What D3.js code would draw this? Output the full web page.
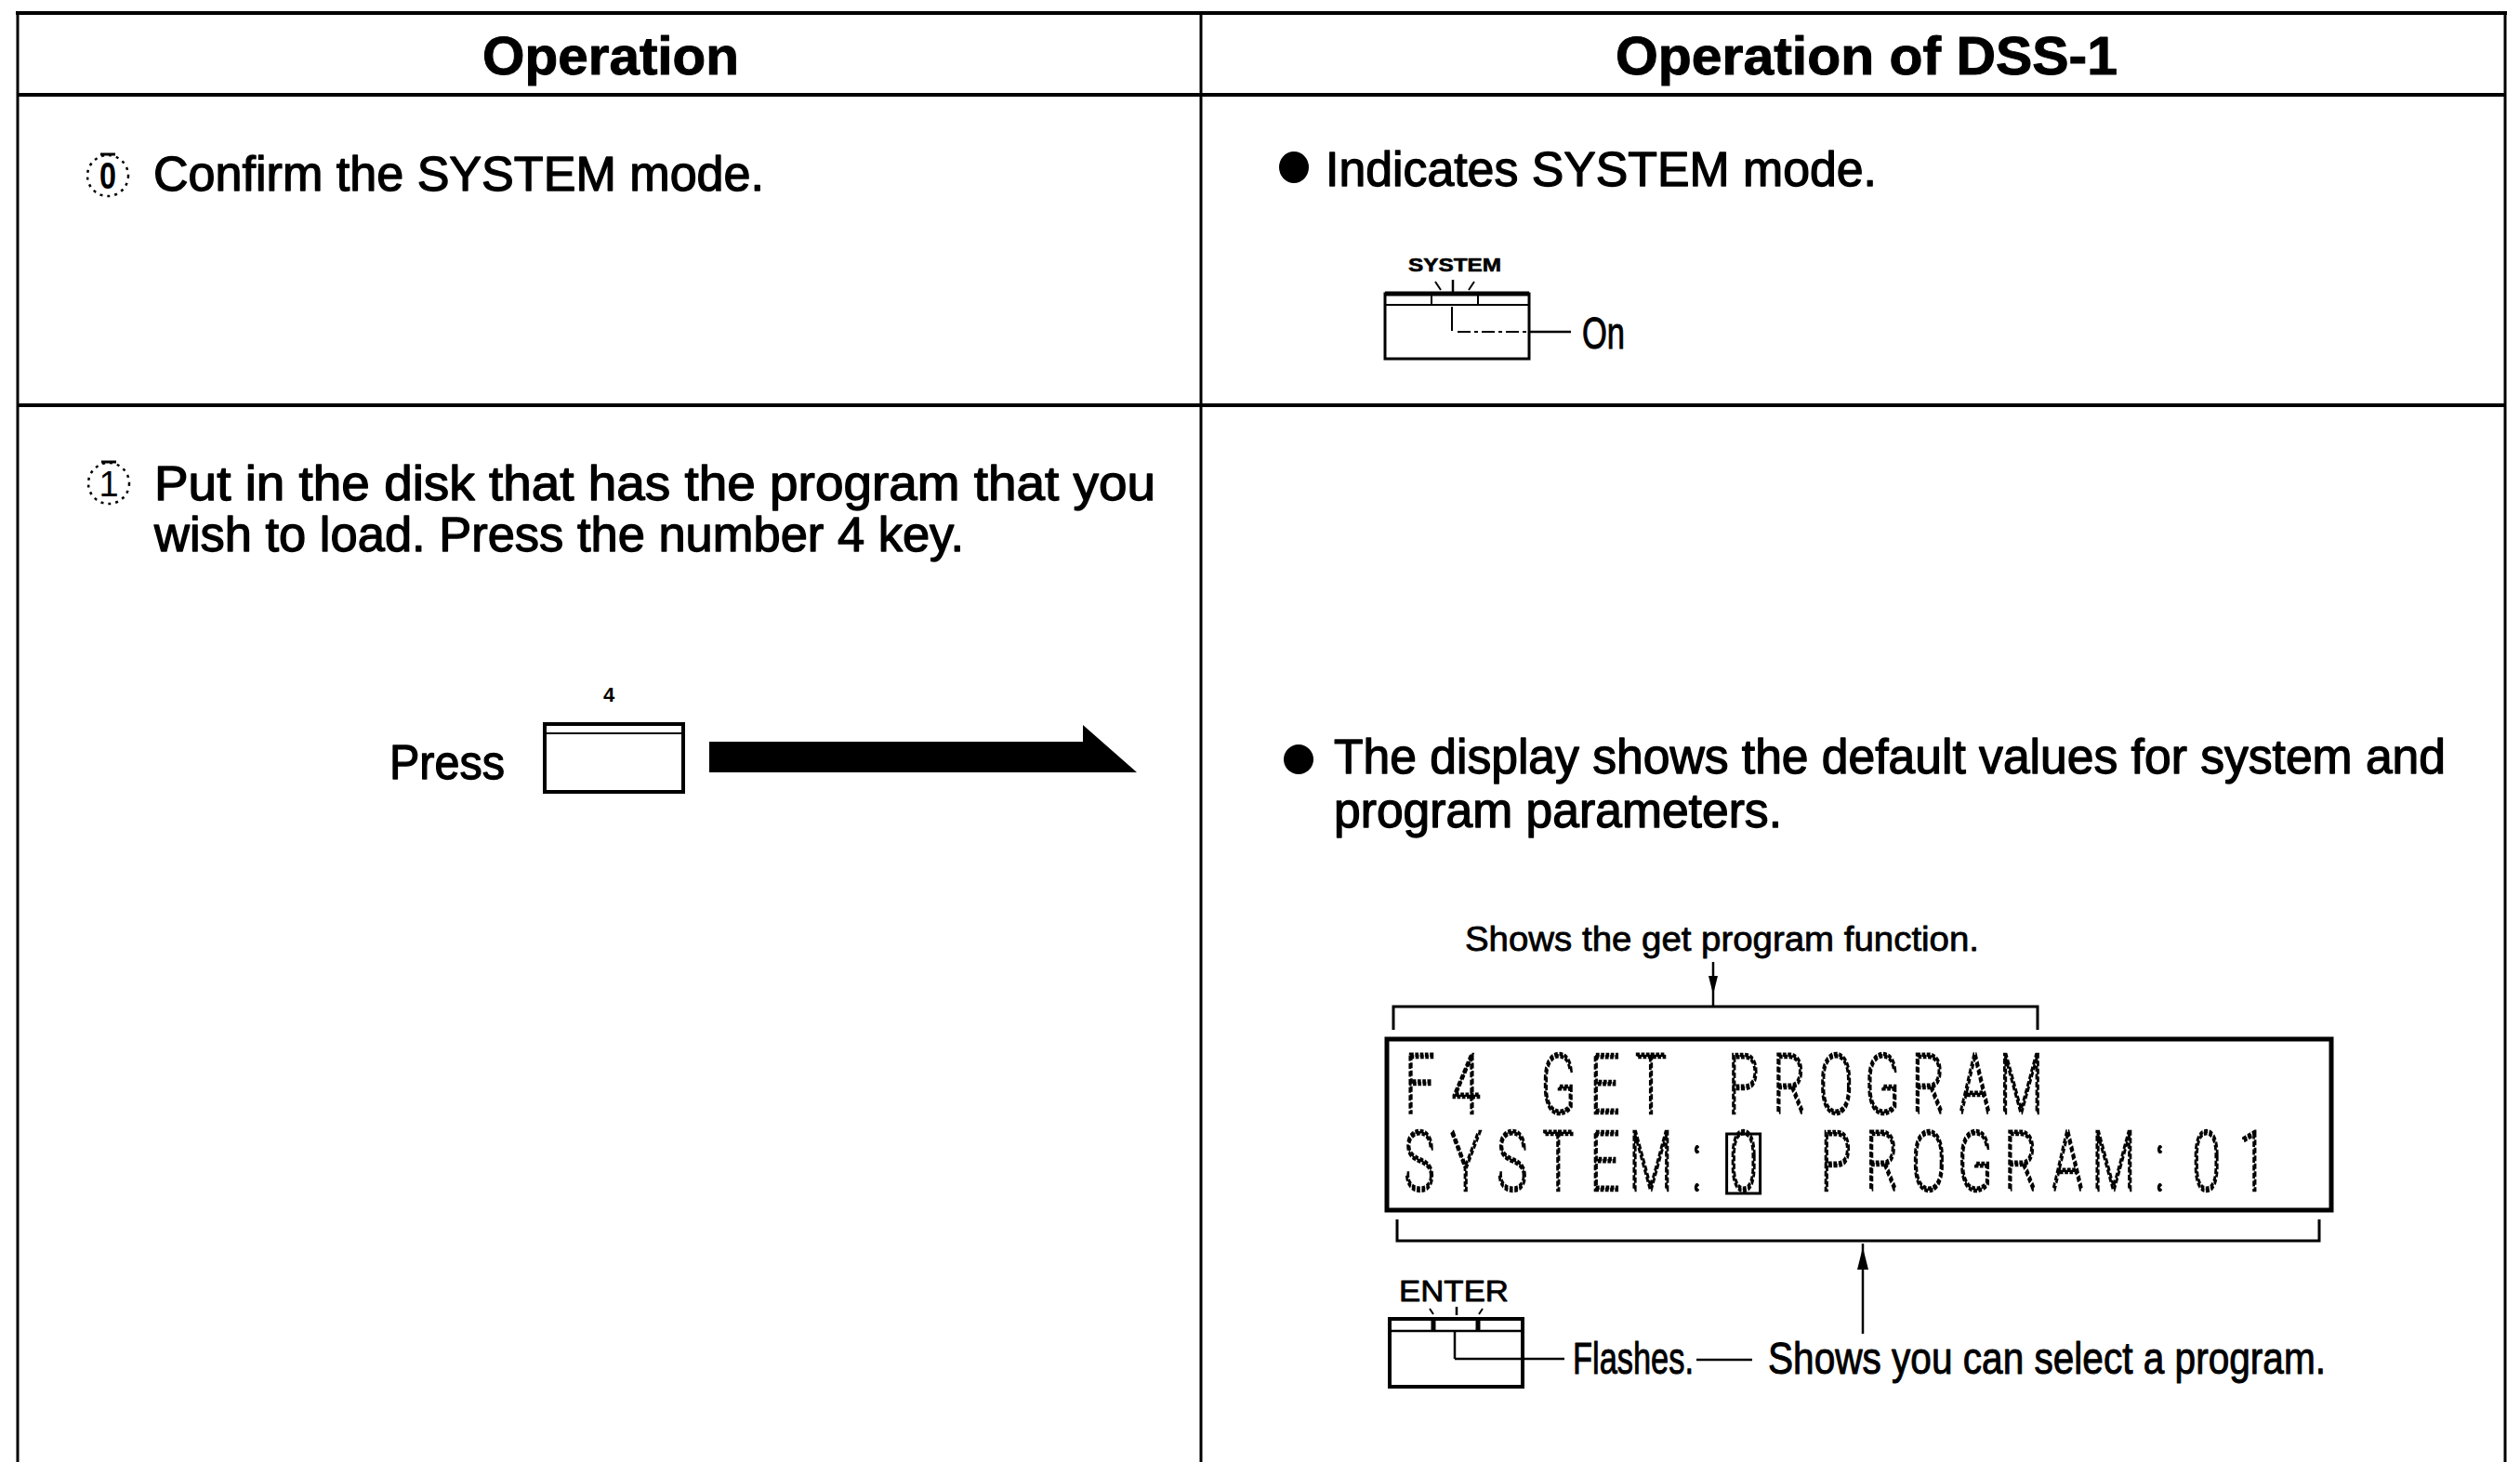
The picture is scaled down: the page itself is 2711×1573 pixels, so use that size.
<!DOCTYPE html>
<html><head><meta charset="utf-8">
<script src="https://cdn.jsdelivr.net/npm/d3@7"></script>
<style>html,body{margin:0;padding:0;background:#fff;overflow:hidden}svg{display:block}</style>
</head><body>
<script>
// ---- content ----
const headers = ["Operation", "Operation of DSS-1"];
const stepMarks = ["0", "1"];
const step0Text = ["Confirm the SYSTEM mode."];
const step0Result = ["Indicates SYSTEM mode."];
const step1Text = ["Put in the disk that has the program that you", "wish to load. Press the number 4 key."];
const step1Result = ["The display shows the default values for system and", "program parameters."];
const keyLabels = ["SYSTEM", "4", "ENTER"];
const pressLabel = ["Press"];
const onLabel = ["On"];
const lcdLines = ["F4 GET PROGRAM", "SYSTEM:0  PROGRAM:01"];
const notes = ["Shows the get program function.", "Flashes.", "Shows you can select a program."];

const W = 2711, H = 1573;
const svg = d3.select("body").append("svg").attr("width", W).attr("height", H);
svg.append("rect").attr("width", W).attr("height", H).attr("fill", "#fff");

const SANS = "'Liberation Sans', Arial, Helvetica, sans-serif";

function T(s, x, y, size, len, o = {}) {
  const t = svg.append("text")
    .attr("x", x).attr("y", y)
    .attr("font-size", size)
    .attr("font-family", o.family || SANS)
    .attr("font-weight", o.weight || "normal")
    .attr("fill", "#000")
    .text(s);
  if (o.stroke) t.attr("stroke", "#000").attr("stroke-width", o.stroke).attr("stroke-linejoin", "round");
  if (len) t.attr("textLength", len).attr("lengthAdjust", o.adjust || "spacingAndGlyphs");
  if (o.anchor) t.attr("text-anchor", o.anchor);
  return t;
}
function L(x1, y1, x2, y2, w, dash) {
  const l = svg.append("line").attr("x1", x1).attr("y1", y1).attr("x2", x2).attr("y2", y2)
    .attr("stroke", "#000").attr("stroke-width", w);
  if (dash) l.attr("stroke-dasharray", dash);
  return l;
}
function R(x, y, w, h, sw) {
  return svg.append("rect").attr("x", x).attr("y", y).attr("width", w).attr("height", h)
    .attr("fill", "none").attr("stroke", "#000").attr("stroke-width", sw);
}

// ---- table frame ----
const colX = d3.scaleOrdinal().domain(["left", "mid", "right"]).range([19, 1292, 2695]);
const rowY = d3.scaleOrdinal().domain(["top", "head", "row1"]).range([14, 102, 436]);
L(colX("left") - 2, rowY("top"), colX("right") + 2, rowY("top"), 4);
L(colX("left"), rowY("head"), colX("right"), rowY("head"), 4);
L(colX("left"), rowY("row1"), colX("right"), rowY("row1"), 4);
["left", "mid", "right"].forEach(k => L(colX(k), rowY("top"), colX(k), H, 3));

// ---- headers ----
T(headers[0], 519, 80, 58, 276, { weight: "bold", stroke: 1 });
T(headers[1], 1738, 80, 58, 540, { weight: "bold", stroke: 1 });

// ---- circled step numbers ----
const markPos = [[116, 189], [117, 520]];
stepMarks.forEach((m, i) => {
  const [cx, cy] = markPos[i];
  svg.append("circle").attr("cx", cx).attr("cy", cy).attr("r", 22)
    .attr("fill", "none").attr("stroke", "#000").attr("stroke-width", 2.5).attr("stroke-dasharray", "3 5");
  L(cx - 8, cy - 23, cx + 8, cy - 23, 3);
  T(m, cx, cy + 14, i === 0 ? 40 : 38, i === 0 ? 18 : null, { anchor: "middle", weight: i === 0 ? "bold" : "normal" });
});

// ---- step texts ----
const BODY = { stroke: 1.3 };
T(step0Text[0], 165, 205, 51, 657, BODY);
T(step1Text[0], 166, 538, 51, 1077, BODY);
T(step1Text[1], 166, 593, 51, 871, BODY);

// bullets + result texts
svg.append("ellipse").attr("cx", 1392).attr("cy", 180).attr("rx", 16).attr("ry", 17).attr("fill", "#000");
T(step0Result[0], 1426, 200, 51, 593, BODY);
svg.append("ellipse").attr("cx", 1397).attr("cy", 817).attr("rx", 16).attr("ry", 16).attr("fill", "#000");
T(step1Result[0], 1435, 832, 51, 1196, BODY);
T(step1Result[1], 1435, 890, 51, 482, BODY);

// ---- SYSTEM indicator key ----
T(keyLabels[0], 1515, 292, 21, 100, { weight: "bold", stroke: 0.6 });
L(1544, 303, 1550, 312, 2); L(1563, 301, 1563, 315, 2.5); L(1586, 303, 1580, 312, 2);
R(1490, 316, 155, 70, 3);
L(1490, 316, 1645, 316, 5);
L(1490, 328, 1645, 328, 2);
L(1540, 316, 1540, 328, 2); L(1590, 316, 1590, 328, 2);
L(1562, 330, 1562, 356, 2);
L(1568, 357, 1645, 357, 2, "14 4 4 4");
L(1645, 357, 1690, 357, 2.5);
T(onLabel[0], 1702, 375, 49, 46, { stroke: 1 });

// ---- Press 4 key + arrow ----
T(keyLabels[1], 655, 755, 22, null, { anchor: "middle", weight: "bold" });
T(pressLabel[0], 419, 838, 52, 124, BODY);
R(586, 779, 149, 73, 4);
L(588, 789, 733, 789, 2);
svg.append("path")
  .attr("d", d3.line()([[763, 798], [1165, 798], [1165, 780], [1223, 831], [763, 831]]) + "Z")
  .attr("fill", "#000");

// ---- LCD annotation top ----
T(notes[0], 1576, 1023, 37, 553, { stroke: 0.8 });
L(1843, 1035, 1843, 1083, 2.5);
svg.append("path").attr("d", d3.line()([[1838, 1050], [1848, 1050], [1843, 1070]]) + "Z").attr("fill", "#000");
svg.append("path").attr("d", d3.line()([[1499, 1108], [1499, 1083], [2192, 1083], [2192, 1108]]))
  .attr("fill", "none").attr("stroke", "#000").attr("stroke-width", 3);

// ---- LCD ----
R(1492, 1118, 1016, 184, 5);
const cell = d3.scaleLinear().domain([0, 1]).range([1527, 1576.8]);
const SX = 0.62;
const lcdBase = [1197, 1280];
const lcd = svg.append("text")
  .attr("transform", `scale(${SX},1)`)
  .attr("text-anchor", "middle")
  .attr("font-family", "Roboto, 'DejaVu Sans', sans-serif")
  .attr("font-weight", 100)
  .attr("font-size", 88)
  .attr("fill", "none")
  .attr("stroke", "#000")
  .attr("stroke-width", 4.5)
  .attr("vector-effect", "non-scaling-stroke")
  .attr("stroke-dasharray", "6 2.5");
lcdLines.forEach((s, li) => {
  const xs = Array.from(s).map((c, i) => (cell(i) / SX).toFixed(1)).join(" ");
  lcd.append("tspan").attr("x", xs).attr("y", lcdBase[li]).text(s);
});
// cursor box on the SYSTEM value
R(cell(7) - 18, 1220, 36, 64, 3);

// ---- LCD annotation bottom ----
svg.append("path").attr("d", d3.line()([[1503, 1312], [1503, 1335], [2495, 1335], [2495, 1312]]))
  .attr("fill", "none").attr("stroke", "#000").attr("stroke-width", 3);
L(2004, 1338, 2004, 1435, 2.5);
svg.append("path").attr("d", d3.line()([[2004, 1342], [1998, 1366], [2010, 1366]]) + "Z").attr("fill", "#000");

// ---- ENTER key ----
T(keyLabels[2], 1505, 1400, 32, 118, { stroke: 0.8 });
L(1538, 1408, 1542, 1414, 2); L(1567, 1406, 1567, 1415, 2.5); L(1595, 1408, 1591, 1414, 2);
R(1495, 1419, 143, 73, 4);
L(1495, 1432, 1638, 1432, 2.5);
L(1542, 1419, 1542, 1432, 5); L(1590, 1419, 1590, 1432, 5);
L(1565, 1432, 1565, 1462, 2.5);
L(1565, 1462, 1683, 1462, 2.5);
T(notes[1], 1692, 1478, 49, 130, { stroke: 1 });
L(1825, 1463, 1885, 1463, 2.5);
T(notes[2], 1902, 1478, 49, 600, { stroke: 1 });
</script>
</body></html>
